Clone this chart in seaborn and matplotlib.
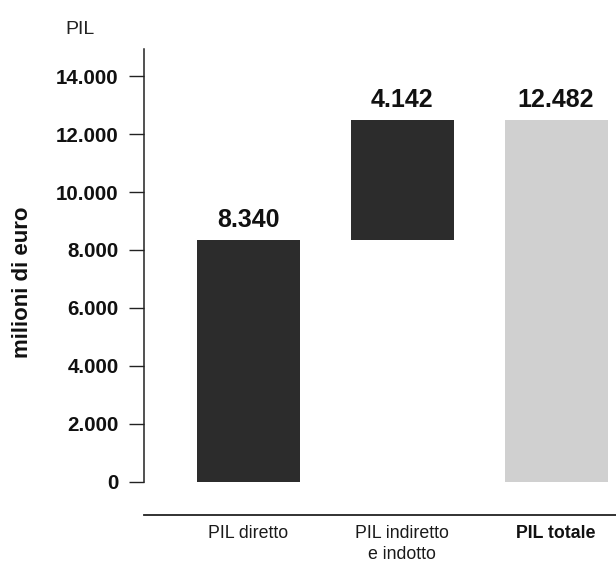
import matplotlib
matplotlib.use("Agg")
import matplotlib.pyplot as plt
import seaborn as sns
import pandas as pd

# Waterfall components of GDP (millions of euro)
categories = ["PIL diretto", "PIL indiretto\ne indotto", "PIL totale"]
deltas = [8340, 4142, 12482]
bases = [0, 8340, 0]
value_labels = ["8.340", "4.142", "12.482"]
bar_colors = ["#2c2c2c", "#2c2c2c", "#d0d0d0"]
yticks = [0, 2000, 4000, 6000, 8000, 10000, 12000, 14000]
ytick_labels = ["0", "2.000", "4.000", "6.000", "8.000", "10.000", "12.000", "14.000"]

sns.set_theme(style="white")
plt.rcParams["font.family"] = ["Liberation Sans", "DejaVu Sans"]

df = pd.DataFrame({"cat": categories, "delta": deltas, "base": bases})

fig = plt.figure(figsize=(6.16, 5.64), dpi=100)
ax = fig.add_axes([144 / 616, 49 / 564, 472 / 616, 466 / 564])

sns.barplot(data=df, x="cat", y="delta", bottom=df["base"].to_numpy(),
            color=bar_colors[0], width=0.67, saturation=1, ax=ax)
for patch, c in zip(ax.patches, bar_colors):
    patch.set_facecolor(c)
    patch.set_edgecolor("none")

# value labels above each bar
for i, (d, b, lab) in enumerate(zip(deltas, bases, value_labels)):
    ax.annotate(lab, xy=(i, b + d), xytext=(0, 9.5), textcoords="offset points",
                ha="center", va="baseline", fontsize=18, fontweight="bold",
                color="#111111")

ax.set_xlim(-0.68, 2.39)
ax.set_ylim(-1141, 14933)
ax.set_yticks(yticks)
ax.set_yticklabels(ytick_labels, fontsize=14.8, fontweight="bold", color="#111111")
ax.tick_params(axis="y", left=True, length=10.8, width=1.0, color="#222222", pad=7.4)
ax.tick_params(axis="x", bottom=False, length=0, pad=7.5)
ax.set_xticks(range(len(categories)))
ax.set_xticklabels(categories, fontsize=12.8, color="#1a1a1a", linespacing=1.3)
ax.get_xticklabels()[2].set_fontweight("bold")
ax.get_xticklabels()[2].set_color("#111111")

for s in ["top", "right"]:
    ax.spines[s].set_visible(False)
ax.spines["left"].set_bounds(0, 14933)
ax.spines["left"].set_linewidth(1.1)
ax.spines["left"].set_color("#222222")
ax.spines["bottom"].set_linewidth(1.3)
ax.spines["bottom"].set_color("#222222")

ax.set_xlabel("")
ax.set_ylabel("milioni di euro", fontsize=16, fontweight="bold", color="#111111")
ax.yaxis.label.set_verticalalignment("center")
ax.yaxis.set_label_coords((22 - 144) / 472, (515 - 282) / 466)

fig.text(65 / 616, 1 - 30 / 564, "PIL", fontsize=14, color="#222222",
         ha="left", va="center")

fig.savefig("out.png", dpi=100)
